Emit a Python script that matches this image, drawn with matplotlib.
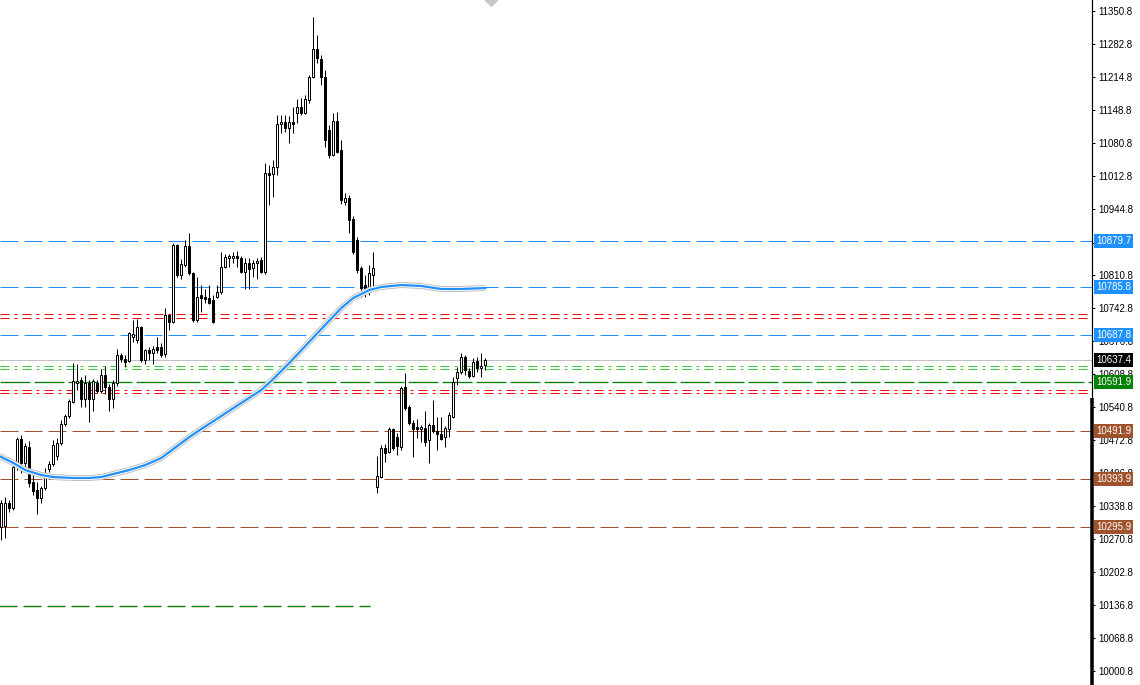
import matplotlib
matplotlib.use("Agg")
import matplotlib.pyplot as plt
import numpy as np
from matplotlib.transforms import blended_transform_factory

# ---------------------------------------------------------------------------
# candle data (price units), one entry per bar, oldest first
# ---------------------------------------------------------------------------
opens = [10295.4, 10297.4, 10344.4, 10334.2, 10418.1, 10475.3, 10426.3, 10459.0, 10387.4, 10371.0,
         10354.7, 10375.1, 10414.0, 10424.2, 10440.6, 10467.2, 10506.0, 10522.4, 10551.0, 10589.9,
         10596.0, 10557.2, 10589.9, 10557.2, 10589.9, 10573.5, 10606.3, 10581.7, 10557.2, 10589.9,
         10647.2, 10639.0, 10634.9, 10684.0, 10677.8, 10704.4, 10636.9, 10657.4, 10651.3, 10663.5,
         10663.5, 10649.2, 10729.0, 10714.7, 10872.2, 10810.8, 10831.3, 10870.1, 10814.9, 10718.8,
         10769.9, 10765.8, 10763.8, 10759.7, 10765.8, 10776.0, 10827.2, 10845.6, 10845.6, 10849.7,
         10845.6, 10816.9, 10835.3, 10825.1, 10835.3, 10841.5, 10816.9, 11019.4, 11017.4, 11031.7,
         11119.7, 11123.8, 11111.5, 11123.8, 11142.2, 11154.4, 11142.2, 11168.8, 11215.8, 11273.1,
         11252.6, 11215.8, 11107.4, 11056.3, 11125.8, 11066.5, 10960.1, 10968.3, 10925.3, 10882.4,
         10825.1, 10790.3, 10784.2, 10810.8, 10377.2, 10397.6, 10456.9, 10448.8, 10495.8, 10479.4,
         10459.0, 10581.7, 10540.8, 10508.1, 10499.9, 10495.8, 10497.8, 10473.3, 10504.0, 10491.7,
         10485.6, 10479.4, 10495.8, 10520.3, 10600.1, 10612.4, 10643.1, 10614.4, 10604.2, 10634.9,
         10620.6, 10626.7]
highs = [10350.6, 10356.7, 10350.6, 10426.3, 10479.4, 10483.5, 10467.2, 10471.3, 10405.8, 10387.4,
         10379.2, 10416.0, 10430.4, 10473.3, 10477.4, 10514.2, 10526.5, 10557.2, 10630.8, 10628.8,
         10602.2, 10606.3, 10596.0, 10598.1, 10596.0, 10618.5, 10624.7, 10587.8, 10596.0, 10659.4,
         10651.3, 10647.2, 10694.2, 10718.8, 10720.8, 10706.5, 10659.4, 10663.5, 10665.6, 10684.0,
         10671.7, 10743.3, 10731.0, 10876.3, 10874.2, 10843.5, 10882.4, 10896.7, 10816.9, 10806.7,
         10790.3, 10782.2, 10790.3, 10769.9, 10790.3, 10857.8, 10853.8, 10853.8, 10857.8, 10859.9,
         10849.7, 10845.6, 10845.6, 10841.5, 10845.6, 10847.6, 11039.9, 11035.8, 11046.0, 11138.1,
         11138.1, 11138.1, 11136.0, 11154.4, 11170.8, 11172.8, 11179.0, 11219.9, 11338.5, 11301.7,
         11260.8, 11230.1, 11117.6, 11142.2, 11144.2, 11086.9, 10978.5, 10974.4, 10931.5, 10888.5,
         10829.2, 10810.8, 10831.3, 10857.8, 10440.6, 10463.1, 10465.1, 10499.9, 10497.8, 10487.6,
         10583.8, 10610.3, 10544.9, 10514.2, 10516.3, 10504.0, 10532.6, 10508.1, 10555.1, 10520.3,
         10520.3, 10501.9, 10530.6, 10602.2, 10622.6, 10651.3, 10647.2, 10620.6, 10641.0, 10643.1,
         10651.3, 10641.0]
lows = [10268.8, 10272.9, 10326.0, 10330.1, 10411.9, 10405.8, 10409.9, 10377.2, 10360.8, 10321.9,
        10344.4, 10371.0, 10407.8, 10420.1, 10432.4, 10463.1, 10501.9, 10518.3, 10549.0, 10575.6,
        10540.8, 10540.8, 10510.1, 10532.6, 10569.4, 10569.4, 10567.4, 10532.6, 10538.8, 10583.8,
        10632.8, 10622.6, 10632.8, 10673.8, 10671.7, 10632.8, 10628.8, 10636.9, 10628.8, 10651.3,
        10643.1, 10643.1, 10698.3, 10712.6, 10806.7, 10802.6, 10827.2, 10810.8, 10714.7, 10714.7,
        10735.1, 10753.5, 10751.5, 10712.6, 10763.8, 10771.9, 10825.1, 10827.2, 10835.3, 10827.2,
        10814.9, 10782.2, 10782.2, 10806.7, 10802.6, 10814.9, 10812.8, 10954.0, 10970.3, 11015.3,
        11101.3, 11103.3, 11080.8, 11101.3, 11121.7, 11138.1, 11140.1, 11162.6, 11213.8, 11244.4,
        11199.4, 11072.6, 11050.1, 11054.2, 11060.3, 10956.0, 10954.0, 10896.7, 10853.8, 10814.9,
        10765.8, 10765.8, 10769.9, 10780.1, 10364.9, 10395.6, 10428.3, 10446.7, 10452.8, 10442.6,
        10452.8, 10534.7, 10504.0, 10438.5, 10477.4, 10469.2, 10461.0, 10426.3, 10487.6, 10452.8,
        10473.3, 10459.0, 10479.4, 10518.3, 10585.8, 10608.3, 10606.3, 10600.1, 10602.2, 10612.4,
        10602.2, 10616.5]
closes = [10344.4, 10344.4, 10334.2, 10418.1, 10475.3, 10426.3, 10461.0, 10385.3, 10369.0, 10354.7,
          10375.1, 10397.6, 10424.2, 10463.1, 10467.2, 10506.0, 10522.4, 10553.1, 10594.0, 10594.0,
          10557.2, 10589.9, 10557.2, 10594.0, 10573.5, 10606.3, 10581.7, 10557.2, 10589.9, 10647.2,
          10639.0, 10632.8, 10692.2, 10690.1, 10704.4, 10636.9, 10657.4, 10651.3, 10659.4, 10657.4,
          10647.2, 10729.0, 10714.7, 10872.2, 10810.8, 10833.3, 10870.1, 10814.9, 10718.8, 10765.8,
          10763.8, 10761.7, 10753.5, 10714.7, 10776.0, 10827.2, 10847.6, 10849.7, 10849.7, 10845.6,
          10816.9, 10835.3, 10823.1, 10835.3, 10839.4, 10816.9, 11019.4, 11015.3, 11031.7, 11119.7,
          11123.8, 11111.5, 11123.8, 11119.7, 11154.4, 11142.2, 11170.8, 11215.8, 11273.1, 11254.7,
          11215.8, 11086.9, 11056.3, 11125.8, 11062.4, 10964.2, 10968.3, 10923.3, 10857.8, 10821.0,
          10784.2, 10776.0, 10814.9, 10825.1, 10399.7, 10456.9, 10446.7, 10495.8, 10456.9, 10461.0,
          10579.7, 10538.8, 10508.1, 10495.8, 10495.8, 10499.9, 10469.2, 10504.0, 10491.7, 10485.6,
          10475.3, 10497.8, 10524.4, 10591.9, 10612.4, 10643.1, 10616.5, 10604.2, 10632.8, 10620.6,
          10624.7, 10636.9]

# moving average, read at a few bars
ma_bar = [-1, 3, 6, 10, 13, 18, 22, 25, 28, 32, 36, 40, 43, 47, 50, 55, 60, 65, 68, 72,
          76, 80, 85, 88, 92, 95, 100, 105, 110, 115, 121]
ma_val = [10442.6, 10426.3, 10411.9, 10401.7, 10397.6, 10395.6, 10395.6, 10397.6, 10403.8, 10411.9,
          10422.2, 10436.5, 10454.9, 10479.4, 10495.8, 10522.4, 10549.0, 10575.6, 10598.1, 10630.8,
          10665.6, 10700.3, 10743.3, 10763.8, 10780.1, 10786.3, 10790.3, 10788.3, 10782.2, 10782.2,
          10784.2]

# horizontal levels
blue_levels = [10879.7, 10785.8, 10687.8]
brown_levels = [10491.9, 10393.9, 10295.9]
red_levels = [10731.0, 10722.8, 10575.6, 10569.4]
lime_levels = [10624.7, 10618.5]
green_level = 10591.9
bid_price = 10637.4
short_green_level = 10133.8
short_green_end_bar = 92.2

ytick_vals = [11350.8, 11282.8, 11214.8, 11148.8, 11080.8, 11012.8, 10944.8, 10876.8, 10810.8,
              10742.8, 10676.8, 10608.8, 10540.8, 10472.8, 10406.8, 10338.8, 10270.8, 10202.8,
              10136.8, 10068.8, 10000.8]

BLUE = "#1E90FF"
BROWN = "#A0522D"
GREEN = "#008000"
LIME = "#32CD32"
RED = "#FF0000"

plt.rcParams["lines.scale_dashes"] = False
plt.rcParams["font.family"] = ["Liberation Sans", "DejaVu Sans"]

PX = 0.72  # points per pixel at dpi 100
DASH = (0, (18 * PX, 6 * PX))
DASHDOT = (0, (9 * PX, 5 * PX, 3 * PX, 5 * PX))

fig = plt.figure(figsize=(11.4, 6.85), dpi=100)
ax = fig.add_axes([0, 0, 1092 / 1140, 1])
ax.set_xlim(-0.325, 272.675)
ax.set_ylim(9972.2, 11373.3)

# level lines
for p in blue_levels:
    ax.axhline(p, color=BLUE, lw=PX, ls=DASH, zorder=1)
for p in brown_levels:
    ax.axhline(p, color=BROWN, lw=PX, ls=DASH, zorder=1)
for p in red_levels:
    ax.axhline(p, color=RED, lw=PX, ls=DASHDOT, zorder=1)
for p in lime_levels:
    ax.axhline(p, color=LIME, lw=PX, ls=DASHDOT, zorder=1)
ax.axhline(green_level, color=GREEN, lw=PX * 1.3, ls=(0, (30 * PX, 4 * PX)), zorder=1)
ax.axhline(bid_price, color="#C0C0C0", lw=PX, zorder=1)
ax.plot([-2, short_green_end_bar], [short_green_level, short_green_level],
        color=GREEN, lw=PX * 1.4, ls=DASH, zorder=1)

# moving average with light outline
ax.plot(ma_bar, ma_val, color="#C0C0C0", lw=6 * PX, solid_capstyle="butt", zorder=4)
ax.plot(ma_bar, ma_val, color="white", lw=4 * PX, solid_capstyle="butt", zorder=4)
ax.plot(ma_bar, ma_val, color=BLUE, lw=2.2 * PX, zorder=5)

# candles
o = np.array(opens); h = np.array(highs); l = np.array(lows); c = np.array(closes)
idx = np.arange(len(o))
ax.vlines(idx, l, h, color="black", lw=PX, zorder=2)
up = c >= o
body_lo = np.minimum(o, c)
body_h = np.abs(c - o)
ax.bar(idx[up], body_h[up], bottom=body_lo[up], width=0.5, color="white",
       edgecolor="black", linewidth=PX, zorder=3)
ax.bar(idx[~up], body_h[~up], bottom=body_lo[~up], width=0.5, color="black",
       edgecolor="black", linewidth=PX, zorder=3)

# axis styling
for s in ["top", "left", "bottom"]:
    ax.spines[s].set_visible(False)
ax.spines["right"].set_linewidth(PX * 1.2)
ax.set_xticks([])
ax.yaxis.tick_right()
ax.set_yticks(ytick_vals)
ax.set_yticklabels([f"{v:.1f}" for v in ytick_vals])
ax.tick_params(axis="y", length=3 * PX, width=PX, pad=3 * PX, labelsize=7, colors="black")

# thick bar on the price scale
trans = blended_transform_factory(ax.transAxes, ax.transData)
ax.plot([1.0, 1.0], [9972.2, 10559.2], transform=trans, color="black",
        lw=3.5 * PX, clip_on=False, zorder=6, solid_capstyle="butt")

# price labels
def price_label(price, fc, tc="white"):
    ax.annotate(f"{price:.1f}", xy=(1.0, price), xycoords=trans,
                xytext=(4 * PX, 0), textcoords="offset points", ha="left", va="center",
                fontsize=7, color=tc, zorder=10, annotation_clip=False,
                bbox=dict(boxstyle="square,pad=0.2", fc=fc, ec="none"))

for p in blue_levels:
    price_label(p, BLUE)
for p in brown_levels:
    price_label(p, BROWN)
price_label(green_level, GREEN)
price_label(bid_price, "black")

# chart shift marker at the top
ax.plot([122.4], [11373.3], marker="D", ms=6, color="#C8C8C8", clip_on=True, zorder=6)

fig.savefig("out.png", dpi=100)
